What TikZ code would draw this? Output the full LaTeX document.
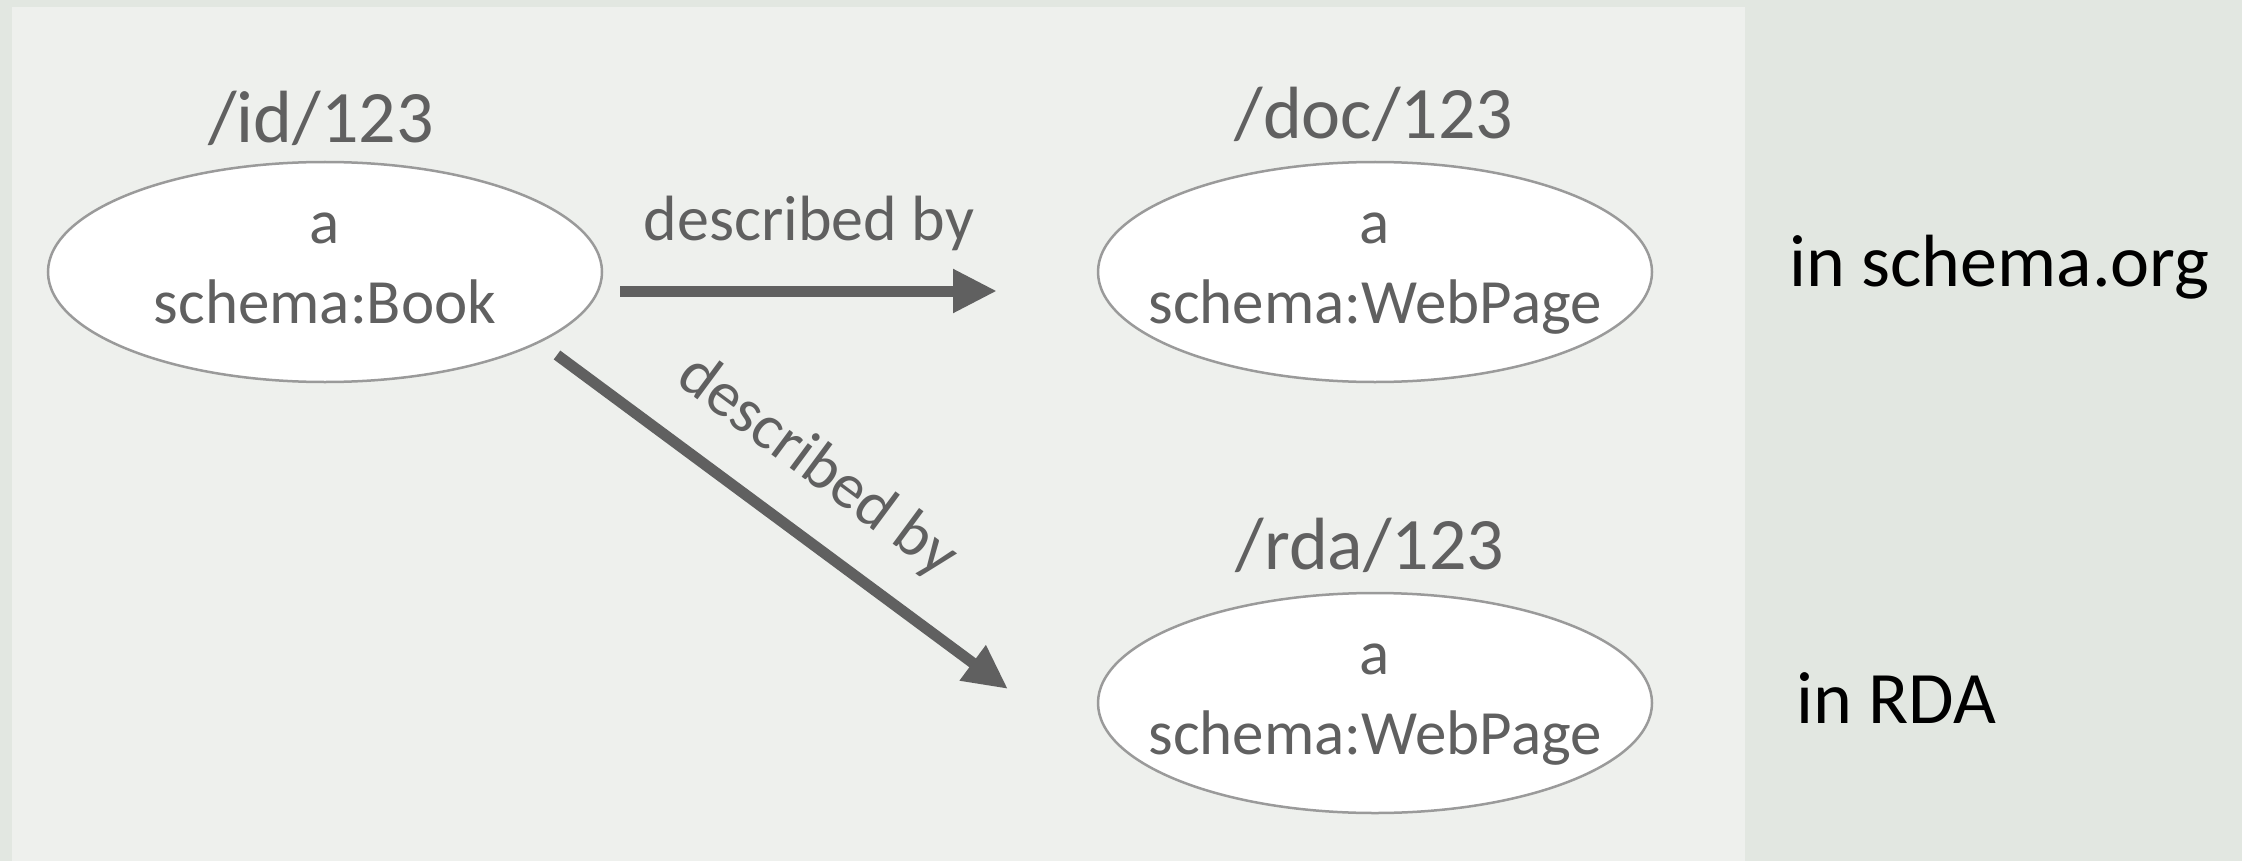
\documentclass[tikz,border=0pt]{standalone}
\usepackage{fontspec}
\setmainfont{Carlito}
\usetikzlibrary{shapes.geometric,arrows.meta,calc}
\definecolor{outerbg}{HTML}{E2E7E1}
\definecolor{panelbg}{HTML}{EEF0ED}
\definecolor{txtgray}{HTML}{606060}
\definecolor{ellgray}{HTML}{9A9A9A}
\tikzset{
  ell/.style={ellipse, draw=ellgray, line width=2.5pt, fill=white, minimum width=554pt, minimum height=220pt, inner sep=0pt},
  nodetxt/.style={text=txtgray, font=\fontsize{63}{76}\selectfont, inner sep=0pt, anchor=base},
  uri/.style={text=txtgray, font=\fontsize{74}{89}\selectfont, inner sep=0pt, anchor=base},
  side/.style={text=black, font=\fontsize{74}{89}\selectfont, inner sep=0pt, anchor=base west},
  rel/.style={text=txtgray, font=\fontsize{64}{77}\selectfont, inner sep=0pt},
  relarrow/.style={draw=txtgray, line width=11pt, -{Triangle[length=44pt,width=41pt]}}
}
\begin{document}
\begin{tikzpicture}[x=1pt,y=1pt]
\fill[outerbg] (0,0) rectangle (2242,-861);
\useasboundingbox (0,0) rectangle (2242,-861);
\fill[panelbg] (12,-7) rectangle (1745,-861);

% nodes
\node[ell] (book) at (325,-272) {};
\node[ell] (doc) at (1375,-272) {};
\node[ell] (rda) at (1375,-703) {};

\node[nodetxt] (booka) at (325,-243) {a};
\node[nodetxt] (bookt) at (325,-323) {schema:Book};
\node[nodetxt] (doca) at (1375,-243) {a};
\node[nodetxt] (doct) at (1375,-323) {schema:WebPage};
\node[nodetxt] (rdaa) at (1375,-674) {a};
\node[nodetxt] (rdat) at (1375,-754) {schema:WebPage};

\node[uri] (iduri) at (321,-143) {/id/123};
\node[uri] (docuri) at (1374,-139) {/doc/123};
\node[uri] (rdauri) at (1370,-569) {/rda/123};

\node[side] (schemaorg) at (1789,-286) {in schema.org};
\node[side] (inrda) at (1796,-723) {in RDA};

% connectors
\coordinate (s1) at (620,-291);
\coordinate (e1) at (997,-291);
\coordinate (s2) at (557,-355);
\coordinate (e2) at (1008,-689);
\draw[relarrow] (s1) -- (e1);
\draw[relarrow] (s2) -- (e2);

\node[rel, anchor=base] (lab1) at (809,-240) {described by};
\node[rel, anchor=center, rotate=-36.5] (lab2) at (817,-467) {described by};
\end{tikzpicture}
\end{document}
